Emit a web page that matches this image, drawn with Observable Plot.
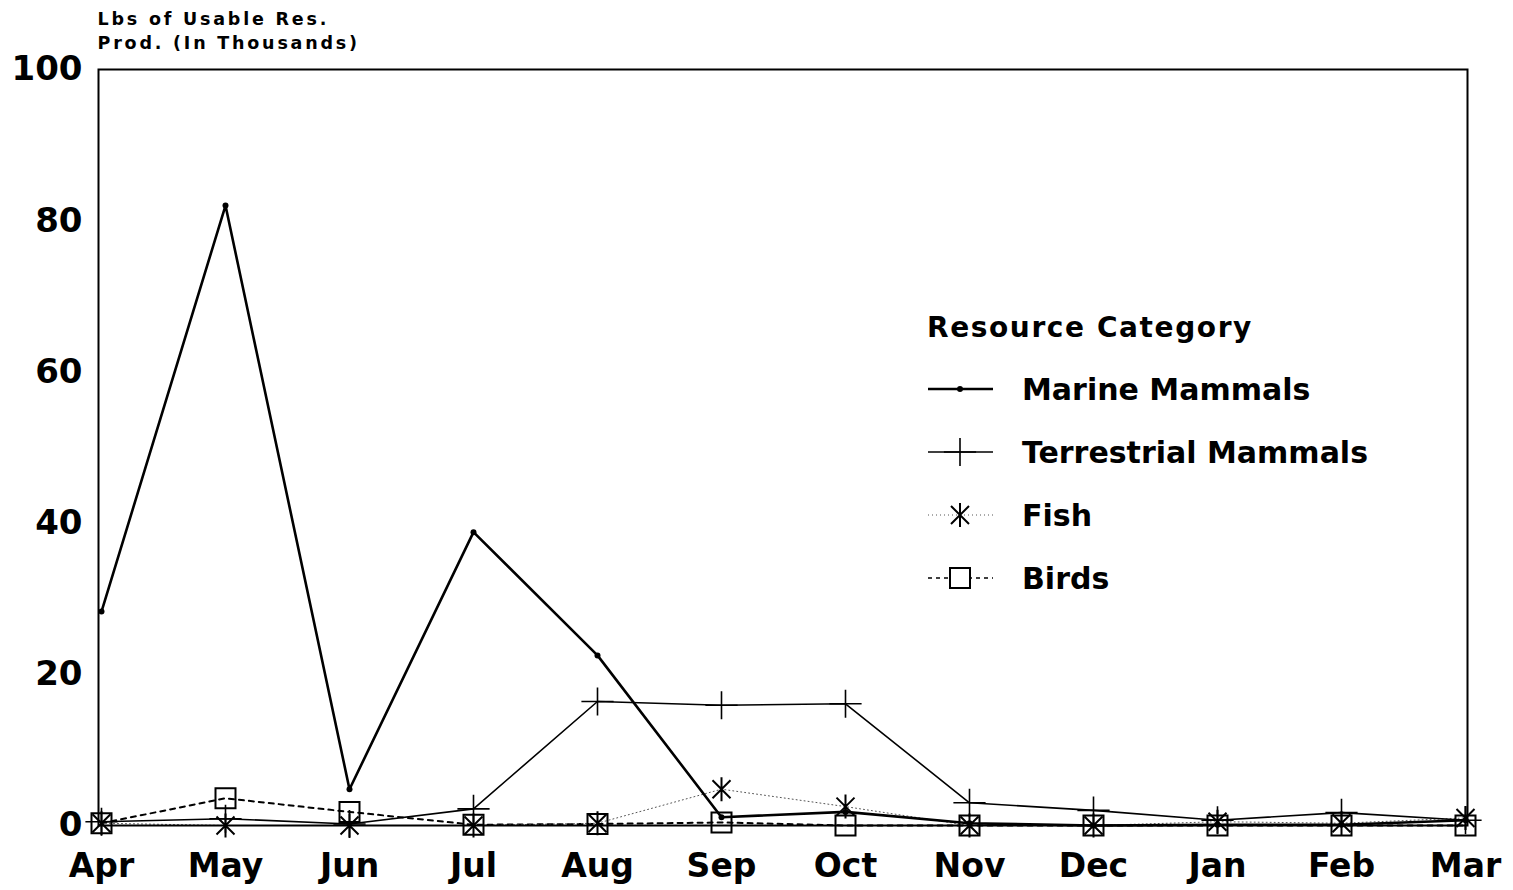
<!DOCTYPE html>
<html><head><meta charset="utf-8">
<script src="https://cdn.jsdelivr.net/npm/d3@7"></script>
<script src="https://cdn.jsdelivr.net/npm/@observablehq/plot@0.6"></script>
<style>
body{margin:0;background:#fff;}
#chart{width:1513px;height:890px;}
</style>
</head><body><div id="chart"></div>
<script>
const months = ["Apr","May","Jun","Jul","Aug","Sep","Oct","Nov","Dec","Jan","Feb","Mar"];
const marineMammals = [28.3, 82.0, 4.8, 38.8, 22.5, 1.1, 1.8, 0.3, 0.0, 0.1, 0.1, 0.7];
const terrestrialMammals = [0.5, 0.9, 0.2, 2.2, 16.4, 15.9, 16.1, 3.0, 2.0, 0.7, 1.7, 0.7];
const fish = [0.3, 0.0, 0.0, 0.0, 0.3, 4.8, 2.5, 0.0, 0.0, 0.5, 0.3, 1.0];
const birds = [0.3, 3.6, 1.8, 0.1, 0.2, 0.4, 0.0, 0.0, 0.0, 0.0, 0.0, 0.0];
const yTicks = [0, 20, 40, 60, 80, 100];
const seriesNames = ["Marine Mammals", "Terrestrial Mammals", "Fish", "Birds"];
const yTitle = "Lbs of Usable Res.\nProd. (In Thousands)";
const legendTitle = "Resource Category";

const toRows = (vals, name) => vals.map((v, i) => ({month: months[i], value: v, series: name}));
const rowsMarine = toRows(marineMammals, seriesNames[0]);
const rowsTerr = toRows(terrestrialMammals, seriesNames[1]);
const rowsFish = toRows(fish, seriesNames[2]);
const rowsBirds = toRows(birds, seriesNames[3]);

const rad = s => Math.sqrt(s / Math.PI);
const plusSym = {draw(ctx, size){ const r = rad(size); ctx.moveTo(-r*1.15,0); ctx.lineTo(r*1.15,0); ctx.moveTo(0,-r); ctx.lineTo(0,r); }};
const starSym = {draw(ctx, size){ const r = rad(size); const d = r*0.75;
  ctx.moveTo(0,-r); ctx.lineTo(0,r);
  ctx.moveTo(-d,-d); ctx.lineTo(d,d);
  ctx.moveTo(-d,d); ctx.lineTo(d,-d); }};
const squareSym = {draw(ctx, size){ const r = rad(size); ctx.rect(-r,-r,2*r,2*r); }};

const font = "'DejaVu Sans', Verdana, sans-serif";

const plot = Plot.plot({
  width: 1513, height: 890,
  marginLeft: 98, marginRight: 46, marginTop: 69, marginBottom: 65,
  style: {fontFamily: font, background: "#fff", color: "#000", overflow: "visible"},
  x: {type: "point", domain: months, padding: 0, label: null},
  y: {domain: [0, 100], label: null},
  marks: [
    Plot.axisX({tickSize: 0, tickPadding: 28, fontSize: 33, fontWeight: "bold", label: null}),
    Plot.axisY({ticks: yTicks, tickSize: 0, tickPadding: 16, fontSize: 34, fontWeight: "bold", label: null}),
    Plot.line(rowsBirds, {x: "month", y: "value", stroke: "#000", strokeWidth: 2, strokeDasharray: "5,5"}),
    Plot.line(rowsFish, {x: "month", y: "value", stroke: "#555", strokeWidth: 1, strokeDasharray: "1,3"}),
    Plot.line(rowsTerr, {x: "month", y: "value", stroke: "#000", strokeWidth: 1.6}),
    Plot.line(rowsMarine, {x: "month", y: "value", stroke: "#000", strokeWidth: 2.6}),
    Plot.dot(rowsBirds, {x: "month", y: "value", symbol: squareSym, r: 10, fill: "#fff", fillOpacity: 0, stroke: "#000", strokeWidth: 2}),
    Plot.dot(rowsFish, {x: "month", y: "value", symbol: starSym, r: 12, fill: "none", stroke: "#000", strokeWidth: 2}),
    Plot.dot(rowsTerr, {x: "month", y: "value", symbol: plusSym, r: 14, fill: "none", stroke: "#000", strokeWidth: 1.6}),
    Plot.dot(rowsMarine, {x: "month", y: "value", r: 3, fill: "#000", stroke: "none"}),
    Plot.frame({stroke: "#000", strokeWidth: 2}),
    Plot.text([yTitle], {frameAnchor: "top-left", text: d => d, dy: -62, dx: -1, textAnchor: "start", lineAnchor: "top", lineHeight: 1.38, fontSize: 17.5, fontWeight: "bold", fill: "#000"})
  ]
});
document.getElementById("chart").appendChild(plot);

const svg = d3.select(plot);
svg.selectAll("text").style("fill", "#000");
svg.selectAll("[aria-label='text'] text").style("letter-spacing", "2.8px");

// Legend
const lg = svg.append("g").attr("font-family", font).attr("font-weight", "bold").attr("fill", "#000").attr("text-anchor", "start");
lg.append("text").attr("x", 927).attr("y", 337).attr("font-size", 28).style("letter-spacing", "1.6px").text(legendTitle);
const items = [
  {name: seriesNames[0], y: 389, width: 2.6, dash: null, stroke: "#000", sym: "dot"},
  {name: seriesNames[1], y: 452, width: 1.6, dash: null, stroke: "#000", sym: plusSym, r: 14},
  {name: seriesNames[2], y: 515, width: 1, dash: "1,3", stroke: "#555", sym: starSym, r: 12},
  {name: seriesNames[3], y: 578, width: 1.6, dash: "4,4", stroke: "#000", sym: squareSym, r: 10}
];
items.forEach(it => {
  lg.append("line").attr("x1", 928).attr("x2", 993).attr("y1", it.y).attr("y2", it.y)
    .attr("stroke", it.stroke).attr("stroke-width", it.width).attr("stroke-dasharray", it.dash);
  if (it.sym === "dot") {
    lg.append("circle").attr("cx", 960).attr("cy", it.y).attr("r", 3).attr("fill", "#000");
  } else {
    lg.append("path").attr("transform", `translate(960,${it.y})`)
      .attr("d", d3.symbol(it.sym, Math.PI * it.r * it.r)())
      .attr("fill", it.sym === squareSym ? "#fff" : "none").attr("stroke", "#000").attr("stroke-width", it.sym === plusSym ? 1.6 : 2);
  }
  lg.append("text").attr("x", 1022).attr("y", it.y).attr("dy", "0.36em").attr("font-size", 30).text(it.name);
});
</script>
</body></html>
